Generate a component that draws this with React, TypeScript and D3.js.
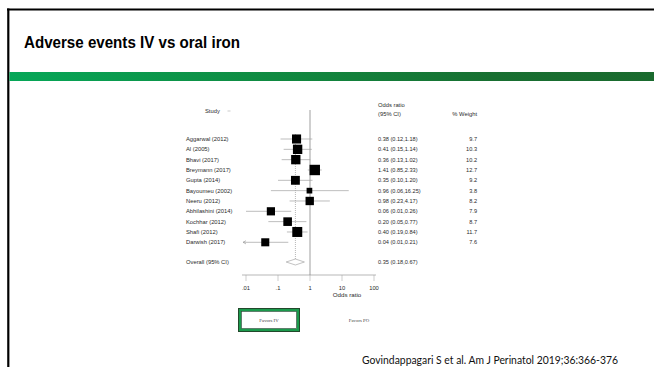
import React from "react";
import * as d3 from "d3";

// Study-level odds ratios (IV vs oral iron, adverse events)
const studies = [
  "Aggarwal (2012)",
  "Al (2005)",
  "Bhavi (2017)",
  "Breymann (2017)",
  "Gupta (2014)",
  "Bayoumeu (2002)",
  "Neeru (2012)",
  "Abhilashini (2014)",
  "Kochhar (2012)",
  "Shafi (2012)",
  "Darwish (2017)",
];
const oddsRatio = [0.38, 0.41, 0.36, 1.41, 0.35, 0.96, 0.98, 0.06, 0.2, 0.4, 0.04];
const ciLow = [0.12, 0.15, 0.13, 0.85, 0.1, 0.06, 0.23, 0.01, 0.05, 0.19, 0.01];
const ciHigh = [1.18, 1.14, 1.02, 2.33, 1.2, 16.25, 4.17, 0.26, 0.77, 0.84, 0.21];
const weights = [9.7, 10.3, 10.2, 12.7, 9.2, 3.8, 8.2, 7.9, 8.7, 11.7, 7.6];
// CI truncated at the lower axis limit (drawn with an arrow)
const truncatedLow = [false, false, false, false, false, false, false, false, false, false, true];

const overallOR = 0.35;
const overallLow = 0.18;
const overallHigh = 0.67;

const tickValues = [0.01, 0.1, 1, 10, 100];
const tickLabels = [".01", ".1", "1", "10", "100"];

const fmt = (v: number) => v.toFixed(2);

export default function App() {
  const W = 654;
  const H = 367;

  const x = d3.scaleLog().domain([0.01, 100]).range([246, 374]);
  const y = d3
    .scalePoint<string>()
    .domain(studies)
    .range([139, 242.3]);
  const boxSize = d3.scaleSqrt().domain([0, 12.7]).range([0, 10.4]);

  const overallY = 262;
  const axisY = 275;
  const labelFont = "'Liberation Sans', Arial, Helvetica, sans-serif";
  const ciColor = "#a0a0a0";
  const textColor = "#2a2a2a";

  const diamond = d3.line<[number, number]>()([
    [x(overallLow), overallY],
    [x(overallOR), overallY - 3],
    [x(overallHigh), overallY],
    [x(overallOR), overallY + 3],
    [x(overallLow), overallY],
  ]);

  return (
    <svg
      width={W}
      height={H}
      style={{ position: "absolute", left: 0, top: 0, background: "#fff" }}
      fontFamily={labelFont}
    >
      <defs>
        <linearGradient id="band" x1="0" x2="1" y1="0" y2="0">
          <stop offset="0" stopColor="#06a758" />
          <stop offset="0.45" stopColor="#11873f" />
          <stop offset="0.75" stopColor="#186f31" />
          <stop offset="1" stopColor="#1a6a2e" />
        </linearGradient>
      </defs>

      {/* slide frame */}
      <rect x={0} y={0} width={W} height={H} fill="#fff" />
      <line x1={7} x2={W} y1={9.5} y2={9.5} stroke="#000" strokeWidth={2.2} />
      <line x1={8.3} x2={8.3} y1={8.5} y2={H} stroke="#000" strokeWidth={2.2} />

      <text
        x={24}
        y={48}
        fontSize={16.2}
        fontWeight="bold"
        fill="#000"
        textLength={216}
        lengthAdjust="spacingAndGlyphs"
      >
        Adverse events IV vs oral iron
      </text>
      <rect x={9.4} y={72} width={W - 9.4} height={9} fill="url(#band)" />

      {/* column headers */}
      <text x={205} y={113} fontSize={5.8} fill={textColor}>
        Study
      </text>
      <line x1={227.5} x2={230.5} y1={111} y2={111} stroke="#aaa" strokeWidth={0.6} />
      <text x={378} y={107} fontSize={5.8} fill={textColor}>
        Odds ratio
      </text>
      <text x={378} y={116} fontSize={5.8} fill={textColor}>
        (95% CI)
      </text>
      <text x={477} y={116} fontSize={5.8} fill={textColor} textAnchor="end">
        % Weight
      </text>

      {/* null line at OR = 1 */}
      <line x1={x(1)} x2={x(1)} y1={110} y2={axisY} stroke="#777" strokeWidth={0.7} />
      {/* overall estimate reference */}
      <line
        x1={x(overallOR)}
        x2={x(overallOR)}
        y1={134}
        y2={overallY}
        stroke="#888"
        strokeWidth={0.6}
        strokeDasharray="1,1"
      />

      {/* study rows */}
      {studies.map((s, i) => {
        const cy = y(s) as number;
        const sz = boxSize(weights[i]);
        const x0 = x(ciLow[i]);
        const x1 = x(ciHigh[i]);
        return (
          <g key={s}>
            <text x={186} y={cy + 2} fontSize={5.8} fill={textColor}>
              {s}
            </text>
            <line x1={x0} x2={x1} y1={cy} y2={cy} stroke={ciColor} strokeWidth={0.7} />
            {truncatedLow[i] && (
              <path
                d={`M${x0 - 3},${cy} L${x0},${cy - 1.6} M${x0 - 3},${cy} L${x0},${cy + 1.6} M${x0 - 3},${cy} L${x0},${cy}`}
                stroke={ciColor}
                strokeWidth={0.7}
                fill="none"
              />
            )}
            <rect
              x={x(oddsRatio[i]) - sz / 2}
              y={cy - sz / 2}
              width={sz}
              height={sz}
              fill="#000"
            />
            <text x={378} y={cy + 2} fontSize={5.6} fill={textColor}>
              {`${fmt(oddsRatio[i])} (${fmt(ciLow[i])},${fmt(ciHigh[i])})`}
            </text>
            <text x={477} y={cy + 2} fontSize={5.6} fill={textColor} textAnchor="end">
              {weights[i].toFixed(1)}
            </text>
          </g>
        );
      })}

      {/* overall */}
      <text x={186} y={overallY + 2} fontSize={5.8} fill={textColor}>
        Overall (95% CI)
      </text>
      <path d={diamond ?? ""} fill="#fff" stroke="#999" strokeWidth={0.6} />
      <text x={378} y={overallY + 2} fontSize={5.6} fill={textColor}>
        {`${fmt(overallOR)} (${fmt(overallLow)},${fmt(overallHigh)})`}
      </text>

      {/* x axis */}
      <line x1={242} x2={376} y1={axisY} y2={axisY} stroke="#888" strokeWidth={0.6} />
      {tickValues.map((t, i) => (
        <g key={t}>
          <line x1={x(t)} x2={x(t)} y1={axisY} y2={axisY + 6} stroke="#999" strokeWidth={0.5} />
          <text x={x(t)} y={289.5} fontSize={5.8} textAnchor="middle" fill={textColor}>
            {tickLabels[i]}
          </text>
        </g>
      ))}
      <text x={347} y={297} fontSize={6.2} textAnchor="middle" fill={textColor}>
        Odds ratio
      </text>

      {/* favours annotations */}
      <rect x={238.5} y={308.5} width={61} height={23} fill="#1b9a4c" stroke="#22482b" strokeWidth={1} />
      <rect x={241.5} y={311.5} width={55} height={17} fill="#fff" stroke="#333" strokeWidth={0.5} />
      <text
        x={269}
        y={321.5}
        fontSize={4.8}
        textAnchor="middle"
        fill="#444"
        fontFamily="'Liberation Serif', 'DejaVu Serif', serif"
      >
        Favors IV
      </text>
      <text
        x={359}
        y={321.5}
        fontSize={4.8}
        textAnchor="middle"
        fill="#444"
        fontFamily="'Liberation Serif', 'DejaVu Serif', serif"
      >
        Favors PO
      </text>

      {/* citation */}
      <text
        x={362}
        y={363.5}
        fontSize={10.5}
        fill="#111"
        fontFamily="Lato, 'Open Sans', sans-serif"
        textLength={256}
        lengthAdjust="spacingAndGlyphs"
      >
        Govindappagari S et al. Am J Perinatol 2019;36:366-376
      </text>
    </svg>
  );
}
